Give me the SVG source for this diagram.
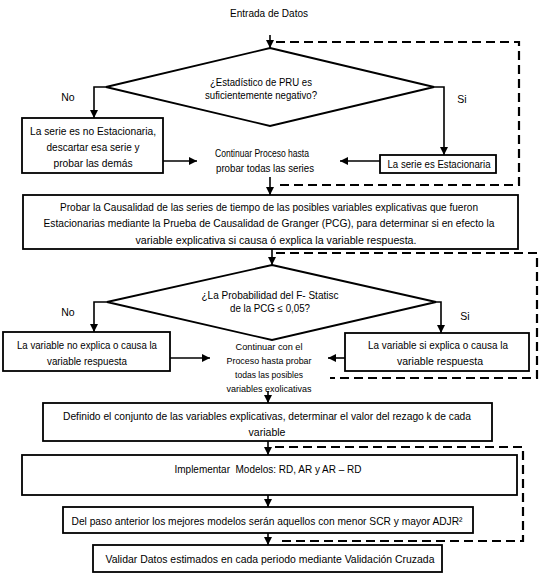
<svg xmlns="http://www.w3.org/2000/svg" width="542" height="575" viewBox="0 0 542 575">
<style>
text{font-family:"Liberation Sans",Arial,sans-serif;font-size:10.5px;fill:#000;text-anchor:middle}
.s{font-size:9px}
.b{fill:#fff;stroke:#000;stroke-width:1.8}
.c{fill:none;stroke:#000;stroke-width:1.6}
.d{fill:none;stroke:#000;stroke-width:2.2;stroke-dasharray:9,5}
</style>
<defs>
<marker id="ah" markerUnits="userSpaceOnUse" markerWidth="8" markerHeight="8" refX="8" refY="4" orient="auto">
<path d="M0,0 L8,4 L0,8 z" fill="#000"/>
</marker>
</defs>
<rect width="542" height="575" fill="#fff"/>
<g id="connectors">
<path class="d" d="M276,42 H519 V185 H279"/>
<path class="d" d="M276,253 H537 V378 H330"/>
<path class="d" d="M275,447 H523 V541 H277"/>
<path class="c" marker-end="url(#ah)" d="M270,35 V48"/>
<path class="c" marker-end="url(#ah)" d="M106,87 H94 V118"/>
<path class="c" marker-end="url(#ah)" d="M434,87 H444 V155"/>
<path class="c" marker-end="url(#ah)" d="M163,161 H197"/>
<path class="c" marker-end="url(#ah)" d="M380,161 H340"/>
<path class="c" marker-end="url(#ah)" d="M270,177 V195"/>
<path class="c" marker-end="url(#ah)" d="M272,249 V265"/>
<path class="c" marker-end="url(#ah)" d="M107,302 H94 V332"/>
<path class="c" marker-end="url(#ah)" d="M436,302 H441 V333"/>
<path class="c" marker-end="url(#ah)" d="M170,358 H210"/>
<path class="c" marker-end="url(#ah)" d="M345,358 H328"/>
<path class="c" marker-end="url(#ah)" d="M268,391 V403"/>
<path class="c" marker-end="url(#ah)" d="M268,441 V455"/>
<path class="c" marker-end="url(#ah)" d="M268,495 V507"/>
<path class="c" marker-end="url(#ah)" d="M268,533 V545"/>
</g>
<g id="start"><text x="269" y="17" textLength="78" lengthAdjust="spacingAndGlyphs">Entrada de Datos</text></g>
<g id="decision1">
<polygon class="b" points="270,48 434,87 270,126 106,87"/>
<text x="261" y="86" textLength="102" lengthAdjust="spacingAndGlyphs">¿Estadístico de PRU es</text>
<text x="261" y="99" textLength="112" lengthAdjust="spacingAndGlyphs">suficientemente negativo?</text>
</g>
<g id="label-no1"><text x="68" y="101">No</text></g>
<g id="label-si1"><text x="462" y="103">Si</text></g>
<g id="noEstacionaria">
<rect class="b" x="22" y="118" width="141" height="55"/>
<text x="93" y="135" textLength="126" lengthAdjust="spacingAndGlyphs">La serie es no Estacionaria,</text>
<text x="93" y="151" textLength="93" lengthAdjust="spacingAndGlyphs">descartar esa serie y</text>
<text x="93" y="167" textLength="79" lengthAdjust="spacingAndGlyphs">probar las demás</text>
</g>
<g id="continuar1">
<text x="262" y="157" textLength="94" lengthAdjust="spacingAndGlyphs">Continuar Proceso hasta</text>
<text x="265" y="172" textLength="98" lengthAdjust="spacingAndGlyphs">probar todas las series</text>
</g>
<g id="estacionaria">
<rect class="b" x="380" y="155" width="116" height="18"/>
<text x="439" y="168" textLength="103" lengthAdjust="spacingAndGlyphs">La serie es Estacionaria</text>
</g>
<g id="causalidad">
<rect class="b" x="23" y="195" width="495" height="54"/>
<text x="269" y="211" textLength="418" lengthAdjust="spacingAndGlyphs">Probar la Causalidad de las series de tiempo de las posibles variables explicativas que fueron</text>
<text x="269" y="227" textLength="451" lengthAdjust="spacingAndGlyphs">Estacionarias mediante la Prueba de Causalidad de Granger (PCG), para determinar si en efecto la</text>
<text x="276" y="244" textLength="281" lengthAdjust="spacingAndGlyphs">variable explicativa si causa ó explica la variable respuesta.</text>
</g>
<g id="decision2">
<polygon class="b" points="272,265 436,302 272,340 107,302"/>
<text x="270" y="299" textLength="137" lengthAdjust="spacingAndGlyphs">¿La Probabilidad del F- Statisc</text>
<text x="270" y="312" textLength="80" lengthAdjust="spacingAndGlyphs">de la PCG ≤ 0,05?</text>
</g>
<g id="label-no2"><text x="68" y="316">No</text></g>
<g id="label-si2"><text x="465" y="320">Si</text></g>
<g id="noExplica">
<rect class="b" x="3" y="332" width="167" height="39"/>
<text x="87" y="349" textLength="140" lengthAdjust="spacingAndGlyphs">La variable no explica o causa la</text>
<text x="87" y="365" textLength="80" lengthAdjust="spacingAndGlyphs">variable respuesta</text>
</g>
<g id="continuar2">
<text class="s" x="269" y="350" textLength="67" lengthAdjust="spacingAndGlyphs">Continuar con el</text>
<text class="s" x="269" y="364" textLength="85" lengthAdjust="spacingAndGlyphs">Proceso hasta probar</text>
<text class="s" x="269" y="378" textLength="68" lengthAdjust="spacingAndGlyphs">todas las posibles</text>
<text class="s" x="269" y="392" textLength="85" lengthAdjust="spacingAndGlyphs">variables exolicativas</text>
</g>
<g id="siExplica">
<rect class="b" x="345" y="333" width="184" height="38"/>
<text x="438" y="349" textLength="140" lengthAdjust="spacingAndGlyphs">La variable si explica o causa la</text>
<text x="440" y="365" textLength="86" lengthAdjust="spacingAndGlyphs">variable respuesta</text>
</g>
<g id="definido">
<rect class="b" x="43" y="403" width="449" height="38"/>
<text x="267" y="420" textLength="408" lengthAdjust="spacingAndGlyphs">Definido el conjunto de las variables explicativas, determinar el valor del rezago k de cada</text>
<text x="267" y="436" textLength="37" lengthAdjust="spacingAndGlyphs">variable</text>
</g>
<g id="implementar">
<rect class="b" x="22" y="455" width="495" height="40"/>
<text x="268" y="473" textLength="187" lengthAdjust="spacingAndGlyphs" xml:space="preserve">Implementar  Modelos: RD, AR y AR – RD</text>
</g>
<g id="mejores">
<rect class="b" x="63" y="507" width="410" height="26"/>
<text x="267" y="525" textLength="391" lengthAdjust="spacingAndGlyphs">Del paso anterior los mejores modelos serán aquellos con menor SCR y mayor ADJR²</text>
</g>
<g id="validar">
<rect class="b" x="93" y="545" width="349" height="27"/>
<text x="270" y="563" textLength="329" lengthAdjust="spacingAndGlyphs">Validar Datos estimados en cada periodo mediante Validación Cruzada</text>
</g>
</svg>
